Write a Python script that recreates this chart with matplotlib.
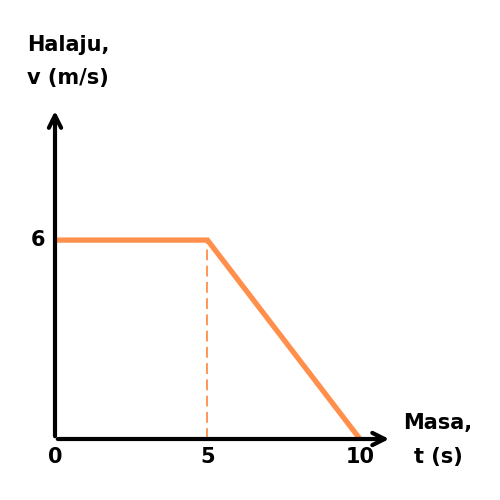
import matplotlib.pyplot as plt

# data
t = [0, 5, 10]
v = [6, 6, 0]
xticks = [0, 5, 10]
yticks = [6]
orange = '#FF8F4A'

plt.rcParams['font.family'] = ['DejaVu Sans']

fig = plt.figure(figsize=(5, 5), dpi=100)
ax = fig.add_axes([0.11, 0.122, 0.677, 0.663])
ax.set_xlim(0, 11.1)
ax.set_ylim(0, 10)
ax.axis('off')

# axes with arrows
ax.annotate('', xy=(11.05, 0), xytext=(0, 0),
            arrowprops=dict(arrowstyle='->', lw=3.0, color='k', mutation_scale=22),
            annotation_clip=False)
ax.annotate('', xy=(0, 9.98), xytext=(0, 0),
            arrowprops=dict(arrowstyle='->', lw=3.0, color='k', mutation_scale=22),
            annotation_clip=False)

# dashed guide
ax.plot([t[1], t[1]], [0, v[1]], color=orange, lw=1.3, ls=(0, (6, 3)))
# graph
ax.plot(t, v, color=orange, lw=3.8, solid_capstyle='butt', solid_joinstyle='miter')

for x in xticks:
    ax.text(x, -0.55, str(x), ha='center', va='center', fontsize=15, fontweight='bold')
for y in yticks:
    ax.text(-0.55, y, str(y), ha='center', va='center', fontsize=15, fontweight='bold')

fig.text(68 / 500, 1 - 45 / 500, 'Halaju,', ha='center', va='center', fontsize=15, fontweight='bold')
fig.text(68 / 500, 1 - 78 / 500, 'v (m/s)', ha='center', va='center', fontsize=15, fontweight='bold')
fig.text(438 / 500, 1 - 423 / 500, 'Masa,', ha='center', va='center', fontsize=15, fontweight='bold')
fig.text(438 / 500, 1 - 457 / 500, 't (s)', ha='center', va='center', fontsize=15, fontweight='bold')

fig.savefig('out.png', dpi=100, facecolor='white')
